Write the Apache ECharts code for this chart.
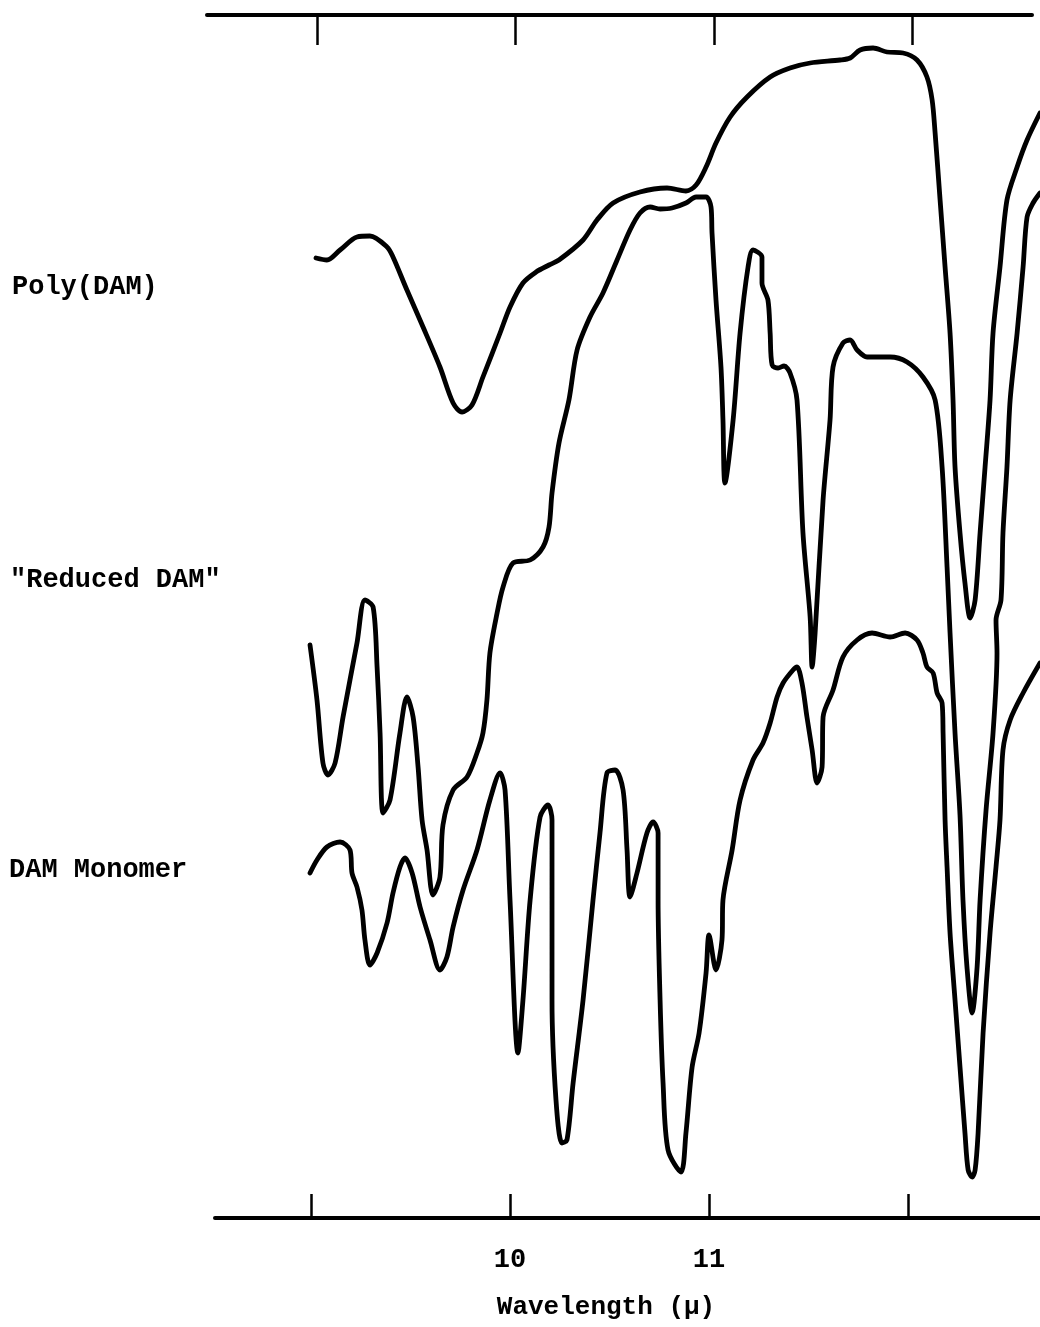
<!DOCTYPE html>
<html>
<head>
<meta charset="utf-8">
<title>IR spectra: Poly(DAM), "Reduced DAM", DAM Monomer</title>
<script src="https://cdn.jsdelivr.net/npm/echarts@6/dist/echarts.min.js"></script>
<style>
  html, body { margin: 0; padding: 0; background: #ffffff; }
  #chart { width: 1040px; height: 1327px; }
</style>
</head>
<body>
<div id="chart"></div>
<script>
// Wavelength ticks (microns) and the ones that carry a number
const tickWavelengths = [9, 10, 11, 12];
const labeledWavelengths = [10, 11];
const seriesNames = ['Poly(DAM)', '"Reduced DAM"', 'DAM Monomer'];
const axisTitle = 'Wavelength (\u03bc)';

// Traces: [wavelength (microns), transmission (offset, arbitrary units)]
const polyDAM = [
  [9.025, 96.0], [9.080, 95.8], [9.146, 96.8], [9.231, 98.1], [9.296, 98.2],
  [9.382, 97.1], [9.412, 96.1], [9.482, 92.8], [9.563, 89.1], [9.648, 85.1],
  [9.714, 81.5], [9.759, 80.6], [9.809, 81.3], [9.864, 84.1], [9.950, 88.5],
  [10.000, 91.1], [10.065, 93.5], [10.131, 94.6], [10.196, 95.3], [10.246, 95.8],
  [10.367, 97.8], [10.437, 99.8], [10.518, 101.5], [10.653, 102.6], [10.789, 103.0],
  [10.884, 102.7], [10.935, 103.3], [10.985, 105.1], [11.035, 107.5], [11.106, 110.1],
  [11.191, 112.1], [11.307, 114.1], [11.407, 115.0], [11.508, 115.5], [11.658, 115.8],
  [11.709, 116.0], [11.759, 116.8], [11.824, 117.0], [11.894, 116.6], [11.975, 116.5],
  [12.045, 115.8], [12.095, 114.1], [12.121, 111.8], [12.136, 108.5], [12.161, 101.8],
  [12.186, 95.1], [12.211, 88.5], [12.226, 81.8], [12.236, 75.1], [12.261, 68.5],
  [12.286, 63.5], [12.312, 60.0], [12.337, 61.8], [12.362, 68.5], [12.387, 75.1],
  [12.412, 81.8], [12.427, 88.5], [12.462, 95.1], [12.497, 101.8], [12.548, 105.1],
  [12.598, 107.8], [12.663, 110.5]
];

const reducedDAM = [
  [8.995, 57.3], [9.030, 51.8], [9.060, 45.5], [9.085, 44.3], [9.121, 45.5],
  [9.161, 50.1], [9.231, 57.5], [9.271, 61.8], [9.312, 61.1], [9.332, 55.1],
  [9.347, 48.5], [9.362, 40.5], [9.397, 41.8], [9.447, 48.5], [9.482, 52.1],
  [9.513, 50.1], [9.538, 45.1], [9.558, 39.8], [9.583, 36.8], [9.613, 32.3],
  [9.648, 34.1], [9.663, 39.3], [9.714, 42.8], [9.784, 44.1], [9.834, 46.5],
  [9.864, 48.5], [9.884, 51.8], [9.899, 56.5], [9.935, 60.5], [9.965, 63.1],
  [10.015, 65.5], [10.101, 65.8], [10.166, 67.1], [10.196, 69.1], [10.211, 72.5],
  [10.246, 77.5], [10.296, 81.8], [10.337, 86.8], [10.402, 90.1], [10.467, 92.5],
  [10.538, 95.8], [10.603, 98.8], [10.653, 100.5], [10.704, 101.1], [10.754, 100.9],
  [10.814, 101.0], [10.884, 101.5], [10.935, 102.1], [10.985, 102.1], [11.010, 101.1],
  [11.015, 98.5], [11.035, 91.8], [11.060, 85.1], [11.070, 79.8], [11.080, 73.5],
  [11.121, 79.8], [11.156, 88.5], [11.196, 95.1], [11.221, 96.8], [11.266, 96.1],
  [11.266, 93.5], [11.296, 91.8], [11.307, 88.5], [11.317, 85.3], [11.347, 85.0],
  [11.377, 85.2], [11.407, 84.5], [11.442, 81.8], [11.472, 68.5], [11.508, 60.1],
  [11.518, 55.1], [11.533, 58.5], [11.573, 71.8], [11.608, 79.8], [11.623, 85.1],
  [11.673, 87.5], [11.709, 87.8], [11.744, 86.8], [11.794, 86.1], [11.910, 86.1],
  [11.995, 85.6], [12.075, 84.1], [12.136, 81.8], [12.171, 75.1], [12.196, 65.1],
  [12.211, 58.5], [12.236, 48.5], [12.261, 40.3], [12.276, 31.8], [12.296, 25.1],
  [12.322, 20.5], [12.347, 25.1], [12.362, 31.8], [12.392, 40.8], [12.427, 48.5],
  [12.447, 56.5], [12.442, 59.8], [12.467, 61.8], [12.477, 68.5], [12.497, 75.1],
  [12.513, 81.8], [12.548, 88.5], [12.578, 95.1], [12.598, 100.1], [12.628, 101.5],
  [12.663, 102.5]
];

const damMonomer = [
  [8.995, 34.5], [9.030, 35.8], [9.080, 37.1], [9.146, 37.6], [9.196, 36.8],
  [9.206, 34.5], [9.231, 33.1], [9.256, 30.8], [9.271, 27.8], [9.296, 25.3],
  [9.332, 26.5], [9.382, 29.5], [9.412, 32.5], [9.447, 35.1], [9.472, 36.0],
  [9.508, 34.5], [9.548, 31.1], [9.598, 27.8], [9.648, 24.8], [9.683, 26.1],
  [9.714, 29.1], [9.764, 32.8], [9.834, 36.8], [9.899, 41.8], [9.950, 44.5],
  [9.975, 42.8], [10.000, 31.8], [10.040, 16.5], [10.065, 21.8], [10.101, 31.8],
  [10.151, 40.1], [10.191, 41.3], [10.211, 39.8], [10.211, 31.8], [10.211, 21.8],
  [10.231, 11.8], [10.261, 7.5], [10.286, 7.8], [10.317, 13.5], [10.367, 21.8],
  [10.417, 31.8], [10.452, 38.5], [10.487, 44.5], [10.528, 44.8], [10.568, 42.8],
  [10.588, 36.8], [10.603, 32.1], [10.638, 34.5], [10.688, 38.5], [10.719, 39.6],
  [10.744, 38.5], [10.744, 31.8], [10.754, 21.8], [10.769, 13.5], [10.794, 6.8],
  [10.859, 4.6], [10.884, 8.5], [10.915, 15.1], [10.950, 18.5], [10.985, 24.5],
  [11.000, 28.3], [11.035, 24.8], [11.065, 27.8], [11.070, 31.8], [11.116, 36.8],
  [11.156, 41.8], [11.221, 45.8], [11.271, 47.5], [11.307, 49.5], [11.342, 52.1],
  [11.372, 53.5], [11.422, 54.8], [11.442, 55.1], [11.467, 53.5], [11.492, 50.1],
  [11.518, 46.8], [11.543, 43.5], [11.568, 45.1], [11.573, 50.1], [11.623, 52.8],
  [11.673, 56.1], [11.744, 57.8], [11.819, 58.5], [11.910, 58.1], [11.985, 58.5],
  [12.045, 57.8], [12.075, 56.5], [12.095, 55.1], [12.126, 54.5], [12.146, 52.5],
  [12.171, 51.5], [12.176, 48.5], [12.186, 39.8], [12.196, 35.1], [12.211, 28.5],
  [12.236, 21.8], [12.261, 15.1], [12.286, 8.5], [12.302, 4.8], [12.322, 4.1],
  [12.337, 4.8], [12.352, 8.5], [12.377, 18.5], [12.412, 28.5], [12.442, 35.1],
  [12.462, 39.8], [12.477, 46.8], [12.513, 49.8], [12.578, 52.5], [12.663, 55.5]
];

const INK = '#000000';
const TYPE_FONT = '"Liberation Mono", "Courier New", monospace';

const chart = echarts.init(document.getElementById('chart'), null, { renderer: 'canvas' });

function traceSeries(name, data) {
  return {
    name: name,
    type: 'line',
    xAxisIndex: 0,
    yAxisIndex: 0,
    data: data,
    showSymbol: false,
    smooth: 0.3,
    clip: false,
    lineStyle: { color: INK, width: 4.8, cap: 'round', join: 'round' },
    emphasis: { disabled: true },
    silent: true
  };
}

function sideLabel(text, x, y) {
  return {
    type: 'text',
    x: x,
    y: y,
    style: {
      text: text,
      font: 'bold 27px ' + TYPE_FONT,
      fill: INK,
      textAlign: 'left',
      textVerticalAlign: 'middle',
      align: 'left',
      verticalAlign: 'middle'
    }
  };
}

const option = {
  backgroundColor: '#ffffff',
  animation: false,
  grid: [
    // plot area with the lower wavelength scale
    { left: 215, right: 0, top: 15, bottom: 109 },
    // upper scale strip
    { left: 207, right: 8, top: 15, height: 100 }
  ],
  xAxis: [
    {
      type: 'value',
      gridIndex: 0,
      position: 'bottom',
      min: 8.5176,
      max: 12.663,
      axisLine: { show: true, onZero: false, lineStyle: { color: INK, width: 4 } },
      axisTick: {
        show: true,
        inside: true,
        length: 24,
        customValues: tickWavelengths,
        lineStyle: { color: INK, width: 2.5 }
      },
      axisLabel: {
        show: true,
        customValues: labeledWavelengths,
        margin: 29,
        color: INK,
        fontFamily: TYPE_FONT,
        fontWeight: 'bold',
        fontSize: 27,
        formatter: function (v) { return String(v); }
      },
      splitLine: { show: false }
    },
    {
      type: 'value',
      gridIndex: 1,
      position: 'top',
      min: 8.444,
      max: 12.604,
      axisLine: { show: true, onZero: false, lineStyle: { color: INK, width: 4 } },
      axisTick: {
        show: true,
        inside: true,
        length: 30,
        customValues: tickWavelengths,
        lineStyle: { color: INK, width: 2.5 }
      },
      axisLabel: { show: false },
      splitLine: { show: false }
    }
  ],
  yAxis: [
    { type: 'value', gridIndex: 0, min: 0, max: 120.3, show: false },
    { type: 'value', gridIndex: 1, min: 0, max: 1, show: false }
  ],
  series: [
    traceSeries(seriesNames[0], polyDAM),
    traceSeries(seriesNames[1], reducedDAM),
    traceSeries(seriesNames[2], damMonomer)
  ],
  graphic: [
    sideLabel(seriesNames[0], 12, 287),
    sideLabel(seriesNames[1], 10, 580),
    sideLabel(seriesNames[2], 9, 870),
    {
      type: 'text',
      x: 606,
      y: 1307,
      style: {
        text: axisTitle,
        font: 'bold 26px ' + TYPE_FONT,
        fill: INK,
        textAlign: 'center',
        textVerticalAlign: 'middle',
        align: 'center',
        verticalAlign: 'middle'
      }
    }
  ]
};

chart.setOption(option);
</script>
</body>
</html>
